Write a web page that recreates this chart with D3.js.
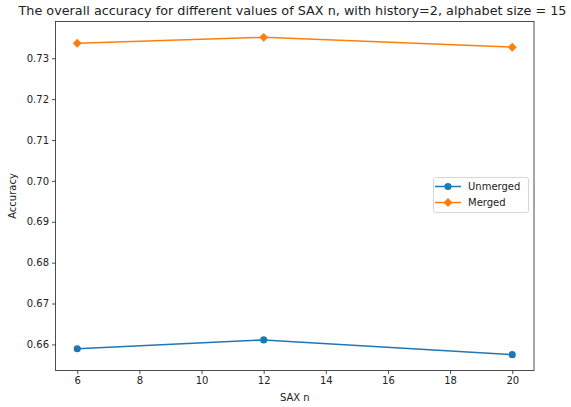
<!DOCTYPE html>
<html lang="en">
<head>
    <script src="https://d3js.org/d3.v7.min.js"></script>
    <style>
        body { margin: 0; background: white; font-family: 'DejaVu Sans', sans-serif; }
        .tick text { font-size: 10px; fill: #222; font-family: 'DejaVu Sans', sans-serif; }
        .axis path, .axis line { stroke: #222; stroke-width: 0.8px; }
        .title { font-size: 12.7px; fill: #222; text-anchor: middle; }
        .axis-label { font-size: 10px; fill: #222; text-anchor: middle; }
        .legend text { font-size: 10px; fill: #222; }
    </style>
</head>
<body>
<script>
    // data
    var saxN = [6, 12, 20];
    var unmerged = [0.65895, 0.6611, 0.6575];
    var merged = [0.73367, 0.7351, 0.7327];
    var xTicks = [6, 8, 10, 12, 14, 16, 18, 20];
    var yTicks = [0.66, 0.67, 0.68, 0.69, 0.70, 0.71, 0.72, 0.73];

    var width = 571, height = 407;
    var plot = {left: 55.5, right: 534, top: 21.5, bottom: 370.5};

    var svg = d3.select("body").append("svg")
        .attr("width", width)
        .attr("height", height);

    var allY = unmerged.concat(merged);
    var yMin = d3.min(allY), yMax = d3.max(allY), yPad = (yMax - yMin) * 0.05;
    var xPad = (d3.max(saxN) - d3.min(saxN)) * 0.05;

    var x = d3.scaleLinear()
        .domain([d3.min(saxN) - xPad, d3.max(saxN) + xPad])
        .range([plot.left, plot.right]);
    var y = d3.scaleLinear()
        .domain([yMin - yPad, yMax + yPad])
        .range([plot.bottom, plot.top]);

    // matplotlib style 'D' marker: square turned 45 degrees
    var diamond = {
        draw: function(ctx, size) {
            var r = Math.sqrt(size / 2);
            ctx.moveTo(0, -r);
            ctx.lineTo(r, 0);
            ctx.lineTo(0, r);
            ctx.lineTo(-r, 0);
            ctx.closePath();
        }
    };

    // x axis
    svg.append("g")
        .attr("class", "axis")
        .attr("transform", "translate(0," + plot.bottom + ")")
        .call(d3.axisBottom(x).tickValues(xTicks).tickSize(3.5).tickPadding(3).tickFormat(d3.format("d")))
        .call(g => g.select(".domain").remove());

    // y axis
    svg.append("g")
        .attr("class", "axis")
        .attr("transform", "translate(" + plot.left + ",0)")
        .call(d3.axisLeft(y).tickValues(yTicks).tickSize(3.5).tickPadding(3).tickFormat(d3.format(".2f")))
        .call(g => g.select(".domain").remove());

    // frame
    svg.append("rect")
        .attr("x", plot.left)
        .attr("y", plot.top)
        .attr("width", plot.right - plot.left)
        .attr("height", plot.bottom - plot.top)
        .attr("fill", "none")
        .attr("stroke", "#222")
        .attr("stroke-width", 0.8);

    var series = [
        {name: "Unmerged", values: unmerged, color: "#1f77b4", shape: d3.symbolCircle, size: 40},
        {name: "Merged", values: merged, color: "#ff7f0e", shape: diamond, size: 40}
    ];

    var line = d3.line()
        .x(function(d, i) { return x(saxN[i]); })
        .y(function(d) { return y(d); });

    series.forEach(function(s) {
        svg.append("path")
            .datum(s.values)
            .attr("fill", "none")
            .attr("stroke", s.color)
            .attr("stroke-width", 1.5)
            .attr("d", line);
        svg.selectAll(null)
            .data(s.values)
            .enter().append("path")
            .attr("transform", function(d, i) { return "translate(" + x(saxN[i]) + "," + y(d) + ")"; })
            .attr("d", d3.symbol().type(s.shape).size(s.size))
            .attr("fill", s.color);
    });

    // title
    svg.append("text")
        .attr("class", "title")
        .attr("x", 292.5)
        .attr("y", 15)
        .attr("textLength", 548)
        .attr("lengthAdjust", "spacingAndGlyphs")
        .text("The overall accuracy for different values of SAX n, with history=2, alphabet size = 15");

    // axis labels
    svg.append("text")
        .attr("class", "axis-label")
        .attr("x", (plot.left + plot.right) / 2)
        .attr("y", 401)
        .text("SAX n");

    svg.append("text")
        .attr("class", "axis-label")
        .attr("transform", "translate(16," + ((plot.top + plot.bottom) / 2) + ") rotate(-90)")
        .text("Accuracy");

    // legend
    var legend = svg.append("g").attr("class", "legend");
    legend.append("rect")
        .attr("x", 433.5).attr("y", 177.5)
        .attr("width", 95).attr("height", 35)
        .attr("rx", 2)
        .attr("fill", "white")
        .attr("stroke", "#ccc")
        .attr("stroke-width", 0.8);

    series.forEach(function(s, i) {
        var ly = 186.5 + i * 16;
        legend.append("line")
            .attr("x1", 435).attr("x2", 461)
            .attr("y1", ly).attr("y2", ly)
            .attr("stroke", s.color)
            .attr("stroke-width", 1.5);
        legend.append("path")
            .attr("transform", "translate(448," + ly + ")")
            .attr("d", d3.symbol().type(s.shape).size(s.size))
            .attr("fill", s.color);
        legend.append("text")
            .attr("x", 468)
            .attr("y", ly + 3.5)
            .text(s.name);
    });
</script>
</body>
</html>
